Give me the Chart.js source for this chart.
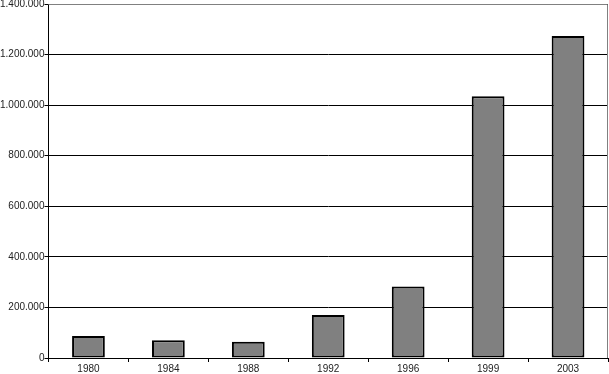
<!DOCTYPE html>
<html>
<head>
<meta charset="utf-8">
<script src="https://cdn.jsdelivr.net/npm/chart.js@4"></script>
<style>
  html, body { margin: 0; padding: 0; background: #fff; overflow: hidden; }
  #wrap { position: relative; width: 609px; height: 374px; overflow: hidden; }
  #barChart { position: absolute; left: 0; top: -2px; }
</style>
</head>
<body>
<div id="wrap"><canvas id="barChart" width="609" height="378"></canvas></div>
<script>
var years = ['1980', '1984', '1988', '1992', '1996', '1999', '2003'];
var values = [87000, 70000, 64000, 170000, 283000, 1035000, 1273000];
var yMax = 1400000;
var yStep = 200000;

function dotted(v) {
    return String(v).replace(/\B(?=(\d{3})+(?!\d))/g, '.');
}

// gray frame along top and right of the plot area
var frame = {
    id: 'frame',
    afterDraw: function (chart) {
        var a = chart.chartArea, c = chart.ctx;
        c.save();
        c.strokeStyle = '#808080';
        c.lineWidth = 1;
        c.beginPath();
        c.moveTo(a.left, a.top + 0.5);
        c.lineTo(a.right - 0.5, a.top + 0.5);
        c.lineTo(a.right - 0.5, a.bottom);
        c.stroke();
        c.restore();
    }
};

var ctx = document.getElementById('barChart').getContext('2d');
new Chart(ctx, {
    type: 'bar',
    data: {
        labels: years,
        datasets: [{
            data: values,
            backgroundColor: '#808080',
            borderColor: '#000000',
            borderWidth: 2,
            borderSkipped: false,
            barPercentage: 0.41,
            categoryPercentage: 1
        }]
    },
    options: {
        responsive: false,
        animation: false,
        layout: { padding: { left: 0, right: 1, top: 0, bottom: 0 } },
        plugins: {
            legend: { display: false },
            tooltip: { enabled: false }
        },
        scales: {
            x: {
                grid: { offset: true, drawOnChartArea: false, color: '#000', tickLength: 4 },
                border: { color: '#000', width: 1 },
                ticks: { color: '#222', font: { family: 'Liberation Sans', size: 10 }, padding: 1, maxRotation: 0 }
            },
            y: {
                min: 0,
                max: yMax,
                grid: { color: '#000', tickLength: 4 },
                border: { color: '#000', width: 1 },
                ticks: {
                    stepSize: yStep,
                    color: '#222',
                    font: { family: 'Liberation Sans', size: 10 },
                    padding: 0,
                    callback: function (value) { return dotted(value); }
                }
            }
        }
    },
    plugins: [frame]
});
</script>
</body>
</html>
